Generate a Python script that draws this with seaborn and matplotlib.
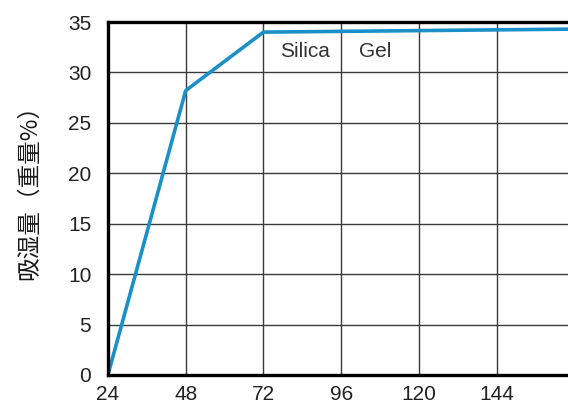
import matplotlib
matplotlib.use("Agg")
import matplotlib.pyplot as plt
import seaborn as sns
import pandas as pd

# 時間 (h) と吸湿量 (重量%)
hours = [24, 48, 72, 168]
moisture = [0, 28.2, 34.0, 34.3]
x_ticks = [24, 48, 72, 96, 120, 144]
y_ticks = [0, 5, 10, 15, 20, 25, 30, 35]

df = pd.DataFrame({"hours": hours, "moisture": moisture})

sns.set_theme(style="white")
plt.rcParams["font.family"] = ["Liberation Sans", "Noto Sans CJK JP", "DejaVu Sans"]

fig = plt.figure(figsize=(5.68, 4.08), dpi=100)
ax = fig.add_axes([0.190, 0.081, 0.81, 0.865])

sns.lineplot(data=df, x="hours", y="moisture", ax=ax, color="#1b8fc8", linewidth=2.6)

ax.set_xlim(24, 166)
ax.set_ylim(0, 35)
ax.set_xticks(x_ticks)
ax.set_yticks(y_ticks)
ax.grid(True, color="#3a3a3a", linewidth=1.0)
ax.set_axisbelow(True)
ax.tick_params(length=0, labelsize=15, colors="#222222")
ax.tick_params(axis="y", pad=12)
ax.tick_params(axis="x", pad=7)

for side in ["left", "bottom", "top"]:
    ax.spines[side].set_linewidth(2.4)
    ax.spines[side].set_color("black")
ax.spines["right"].set_visible(False)

ax.set_xlabel("")
ax.set_ylabel("吸湿量（重量%）", fontsize=17, family=["Noto Sans CJK JP", "DejaVu Sans"],
              color="#1a1a1a")
ax.yaxis.set_label_coords(-0.146, 0.535)

# ラベル
ax.text(77, 32.1, "Silica", fontsize=15, color="#333333", va="center")
ax.text(101.5, 32.1, "Gel", fontsize=15, color="#333333", va="center")

fig.savefig("out.png", dpi=100)
